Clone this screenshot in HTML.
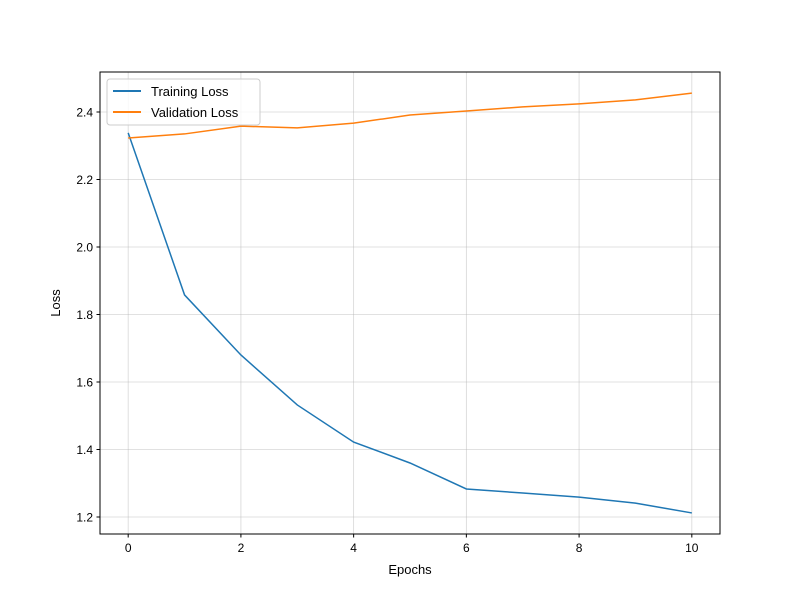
<!DOCTYPE html>
<html><head><meta charset="utf-8"><style>
body{margin:0;background:#fff;font-family:"Liberation Sans","DejaVu Sans",sans-serif;}
</style></head><body>
<svg id="chart" width="800" height="600" xmlns="http://www.w3.org/2000/svg">
<rect width="800" height="600" fill="#fff"/>
<g id="grid"></g><g id="ticks"></g><g id="lines"></g>
<rect x="100" y="72" width="620" height="462" fill="none" stroke="#000" stroke-width="1"/>
<text x="410" y="574" font-size="13" text-anchor="middle">Epochs</text>
<text x="60" y="303" font-size="13" text-anchor="middle" transform="rotate(-90 60 303)">Loss</text>
<g>
<rect x="107" y="79" width="153" height="46" rx="3" fill="#fff" fill-opacity="0.8" stroke="#ccc"/>
<line x1="113" y1="91" x2="141" y2="91" stroke="#1f77b4" stroke-width="2"/>
<text x="151" y="96" font-size="13">Training Loss</text>
<line x1="113" y1="112" x2="141" y2="112" stroke="#ff7f0e" stroke-width="2"/>
<text x="151" y="117" font-size="13">Validation Loss</text>
</g>
</svg>
<script>
const epochs=[0,1,2,3,4,5,6,7,8,9,10];
const trainingLoss=[2.338,1.858,1.68,1.532,1.422,1.36,1.283,1.271,1.259,1.241,1.212];
const validationLoss=[2.323,2.335,2.358,2.353,2.367,2.391,2.403,2.415,2.424,2.436,2.456];
const xTicks=[0,2,4,6,8,10];
const yTicks=[1.2,1.4,1.6,1.8,2.0,2.2,2.4];
const NS="http://www.w3.org/2000/svg";
const L=100,R=720,T=72,B=534,xmin=-0.5,xmax=10.5,ymin=1.1496,ymax=2.5185;
const sx=v=>L+(v-xmin)/(xmax-xmin)*(R-L);
const sy=v=>B-(v-ymin)/(ymax-ymin)*(B-T);
function mk(tag,attrs,parent){const e=document.createElementNS(NS,tag);for(const k in attrs)e.setAttribute(k,attrs[k]);document.getElementById(parent).appendChild(e);return e;}
xTicks.forEach(t=>{
 const g=mk('line',{x1:sx(t),x2:sx(t),y1:T,y2:B,stroke:'#b0b0b0','stroke-opacity':0.5,'stroke-width':0.8},'grid');
 
 
 mk('line',{x1:sx(t),x2:sx(t),y1:B,y2:B+3.5,stroke:'#000'},'ticks');
 const tx=mk('text',{x:sx(t),y:B+18,'font-size':12,'text-anchor':'middle'},'ticks');
 tx.textContent=t;
 
 
});
yTicks.forEach(t=>{
 const g=mk('line',{x1:L,x2:R,y1:sy(t),y2:sy(t),stroke:'#b0b0b0','stroke-opacity':0.5,'stroke-width':0.8},'grid');
 
 
 mk('line',{x1:L-3.5,x2:L,y1:sy(t),y2:sy(t),stroke:'#000'},'ticks');
 const tx=mk('text',{x:L-7,y:sy(t)+4.5,'font-size':12,'text-anchor':'end'},'ticks');
 tx.textContent=t.toFixed(1);
 
 
});
function series(vals,color,name){
 const p=mk('polyline',{points:epochs.map((e,i)=>sx(e)+','+sy(vals[i])).join(' '),fill:'none',stroke:color,'stroke-width':1.5},'lines');
 
 
}
series(trainingLoss,'#1f77b4','training-loss-line');
series(validationLoss,'#ff7f0e','validation-loss-line');
</script>
</body></html>
